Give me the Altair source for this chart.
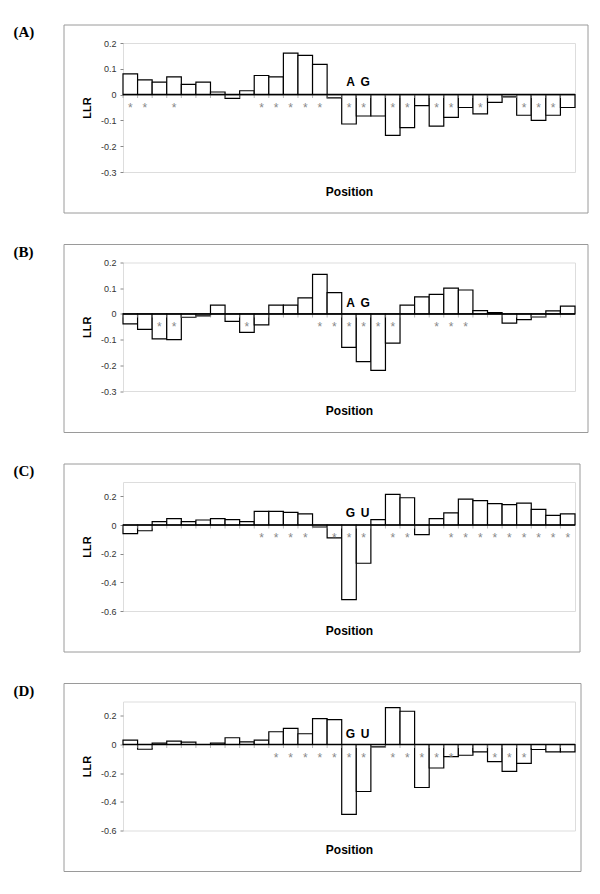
import altair as alt
import pandas as pd

positions = list(range(1, 32))

vals_a = [0.08, 0.057, 0.048, 0.069, 0.04, 0.048, 0.01, -0.015, 0.015, 0.074, 0.069, 0.161,
          0.152, 0.117, -0.013, -0.114, -0.083, -0.083, -0.158, -0.128, -0.043, -0.122,
          -0.088, -0.05, -0.075, -0.03, -0.009, -0.08, -0.10, -0.08, -0.05]
stars_a = [1, 2, 4, 10, 11, 12, 13, 14, 16, 17, 19, 20, 22, 23, 25, 28, 29, 30]

vals_b = [-0.039, -0.06, -0.097, -0.10, -0.013, -0.008, 0.034, -0.029, -0.072, -0.043, 0.034,
          0.034, 0.062, 0.154, 0.083, -0.13, -0.186, -0.22, -0.114, 0.034, 0.066, 0.076,
          0.10, 0.093, 0.013, 0.005, -0.036, -0.022, -0.012, 0.012, 0.03]
stars_b = [3, 4, 9, 14, 15, 16, 17, 18, 19, 22, 23, 24]

vals_c = [-0.06, -0.04, 0.023, 0.044, 0.023, 0.035, 0.044, 0.037, 0.023, 0.095, 0.095, 0.088,
          0.077, -0.014, -0.09, -0.52, -0.267, 0.037, 0.214, 0.19, -0.067, 0.044, 0.084,
          0.18, 0.17, 0.149, 0.142, 0.153, 0.109, 0.067, 0.077]
stars_c = [10, 11, 12, 13, 15, 16, 17, 19, 20, 23, 24, 25, 26, 27, 28, 29, 30, 31]

vals_d = [0.03, -0.033, 0.009, 0.023, 0.016, None, 0.009, 0.047, 0.019, 0.03, 0.089, 0.112,
          0.075, 0.18, 0.173, -0.487, -0.328, -0.016, 0.257, 0.232, -0.30, -0.164, -0.084,
          -0.075, -0.051, -0.119, -0.187, -0.131, -0.035, -0.051, -0.051]
stars_d = [11, 12, 13, 14, 15, 16, 17, 19, 20, 21, 22, 23, 26, 27, 28]

letter_pos = [16, 17]
letters_ag = ["A", "G"]
letters_gu = ["G", "U"]
letter_y = {"A": 0.047, "B": 0.042, "C": 0.084, "D": 0.075}

ticks_small = [-0.3, -0.2, -0.1, 0, 0.1, 0.2]
ticks_large = [-0.6, -0.4, -0.2, 0, 0.2]

SANS = "Liberation Sans"
one = pd.DataFrame({"k": [0]})


def panel(tag, vals, stars, letters, ly, ydom, yticks, h, right, guard=False):
    df = pd.DataFrame({"pos": positions, "val": vals}).dropna()
    sdf = pd.DataFrame({"pos": stars})
    ldf = pd.DataFrame({"pos": letter_pos, "lab": letters, "ly": [ly, ly]})
    bdf = pd.DataFrame({"pos": positions})

    xs = alt.Scale(domain=positions, paddingInner=0, paddingOuter=0)
    ys = alt.Scale(domain=ydom, nice=False, zero=False)
    xa = alt.Axis(
        labels=False, ticks=False, domain=False, grid=False, title="Position",
        titleFont=SANS, titleFontSize=12, titleFontWeight="bold", titleColor="black",
        titleY=19, titleBaseline="middle")
    ya = alt.Axis(
        values=yticks, domain=False, grid=False, tickSize=3, tickColor="#888",
        labelPadding=4, labelFont=SANS, labelFontSize=9, labelColor="#333",
        labelExpr="datum.value == 0 ? '0' : (datum.value < 0 ? '-' + format(-datum.value, '.1f') : format(datum.value, '.1f'))",
        title="LLR", titleFont=SANS, titleFontSize=11, titleFontWeight="bold",
        titleColor="black", titleAngle=270, titleX=-36, titleY=h / 2,
        titleAlign="center", titleBaseline="middle")

    outer = alt.Chart(one).mark_rect(fill="transparent", stroke="#9a9a9a", strokeWidth=1).encode(
        x=alt.value(-59), x2=alt.value(right - 122), y=alt.value(-18), y2=alt.value(170)
    )
    tagtxt = alt.Chart(one).mark_text(
        text=f"({tag})", font="Liberation Serif", fontWeight="bold", fontSize=15,
        align="left", baseline="middle", color="black"
    ).encode(x=alt.value(-109.5), y=alt.value(-11))

    bars = alt.Chart(df).mark_bar(fill="white", stroke="black", strokeWidth=1.2).encode(
        x=alt.X("pos:O", scale=xs, axis=xa, title="Position"),
        y=alt.Y("val:Q", scale=ys, axis=ya, title="LLR"),
    )
    btick = alt.Chart(bdf).mark_tick(orient="vertical", size=3, thickness=1, color="#999", yOffset=2).encode(
        x=alt.X("pos:O", scale=xs, bandPosition=0, axis=xa, title="Position"),
        y=alt.datum(0, scale=ys, axis=ya, title="LLR"),
    )
    zero = alt.Chart(one).mark_rule(color="black", strokeWidth=1.5).encode(
        y=alt.datum(0, scale=ys, axis=ya, title="LLR"))
    st = alt.Chart(sdf).mark_text(text="*", font=SANS, fontSize=12, color="#888",
                                  baseline="middle", dy=13).encode(
        x=alt.X("pos:O", scale=xs, axis=xa, title="Position"),
        y=alt.datum(0, scale=ys, axis=ya, title="LLR"),
    )
    lt = alt.Chart(ldf).mark_text(font=SANS, fontSize=12, fontWeight="bold", color="black",
                                  baseline="middle", dx=1.5).encode(
        x=alt.X("pos:O", scale=xs, axis=xa, title="Position"),
        y=alt.Y("ly:Q", scale=ys, axis=ya, title="LLR"),
        text="lab:N",
    )
    layers = [bars, outer, tagtxt, btick, zero, st, lt]
    if guard:
        g = alt.Chart(one).mark_rect(fill="white").encode(
            x=alt.value(-114), x2=alt.value(-113), y=alt.value(-34.3), y2=alt.value(-33.3))
        layers.append(g)
    return alt.layer(*layers).properties(width=452, height=h)


pa = panel("A", vals_a, stars_a, letters_ag, letter_y["A"], [-0.3, 0.2], ticks_small, 129, 587, guard=True)
pb = panel("B", vals_b, stars_b, letters_ag, letter_y["B"], [-0.3, 0.2], ticks_small, 128.5, 587)
pc = panel("C", vals_c, stars_c, letters_gu, letter_y["C"], [-0.6, 0.3], ticks_large, 129, 579)
pd_ = panel("D", vals_d, stars_d, letters_gu, letter_y["D"], [-0.6, 0.3], ticks_large, 129, 580)

chart = alt.vconcat(pa, pb, pc, pd_, spacing=90.5, bounds="flush").properties(
    padding=0
).configure_view(stroke="#7a7a7a", strokeWidth=1).configure(background="white")

chart.save("out.html", embed_options={"renderer": "svg", "actions": False})
